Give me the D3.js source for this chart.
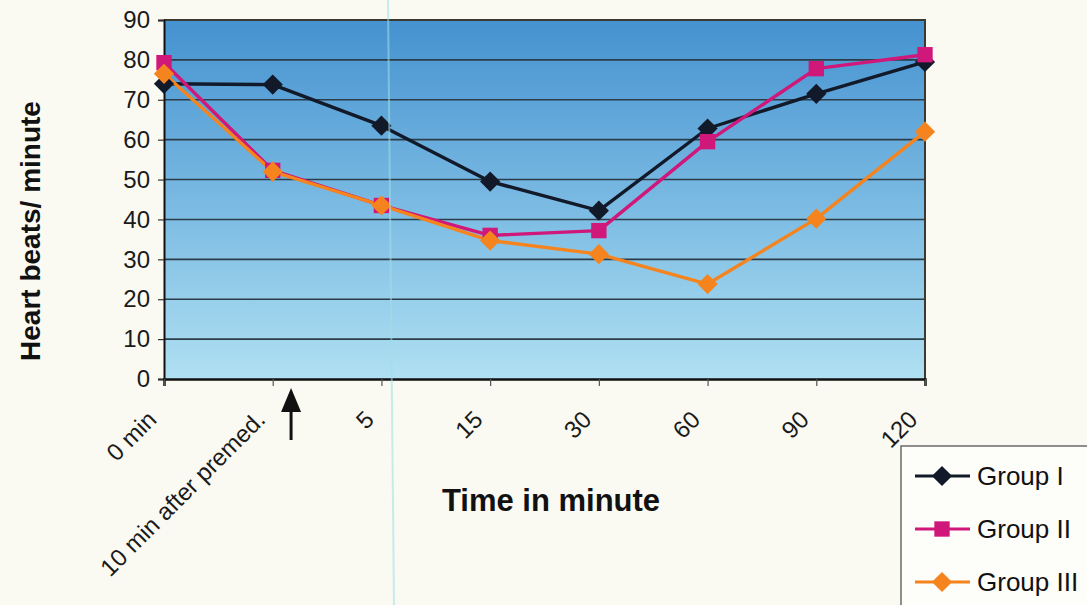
<!DOCTYPE html>
<html>
<head>
<meta charset="utf-8">
<script src="https://cdn.jsdelivr.net/npm/d3@7/dist/d3.min.js"></script>
<style>
  html, body { margin: 0; padding: 0; background: #fafaf3; }
  svg { display: block; }
  text { font-family: "Liberation Sans", Arial, sans-serif; }
</style>
</head>
<body>
<svg id="chart" width="1087" height="605"></svg>
<script>
// Time points after premedication
const categories = ["0 min", "10 min after premed.", "5", "15", "30", "60", "90", "120"];
// Heart beats per minute for each group
const groupI   = [74, 73.8, 63.5, 49.5, 42.2, 62.8, 71.5, 79.5];
const groupII  = [79.3, 52.3, 43.5, 36, 37.2, 59.5, 77.8, 81.3];
const groupIII = [76.5, 52, 43.5, 34.7, 31.3, 23.8, 40.2, 62];
const yTicks = [0, 10, 20, 30, 40, 50, 60, 70, 80, 90];
const seriesNames = ["Group I", "Group II", "Group III"];

const series = [
  { name: seriesNames[0], values: groupI,   color: "#121a2a", marker: "diamond" },
  { name: seriesNames[1], values: groupII,  color: "#d0177a", marker: "square" },
  { name: seriesNames[2], values: groupIII, color: "#f5841e", marker: "diamond" }
];

const svg = d3.select("#chart");
const plot = { left: 164, right: 925, top: 20, bottom: 379 };

const x = d3.scalePoint().domain(categories).range([plot.left, plot.right]).padding(0);
const y = d3.scaleLinear().domain([0, 90]).range([plot.bottom, plot.top]);

// Plot area gradient
const defs = svg.append("defs");
const grad = defs.append("linearGradient").attr("id", "bg")
  .attr("x1", 0).attr("y1", 0).attr("x2", 0).attr("y2", 1);
grad.append("stop").attr("offset", "0%").attr("stop-color", "#4592d0");
grad.append("stop").attr("offset", "55%").attr("stop-color", "#7ebde4");
grad.append("stop").attr("offset", "100%").attr("stop-color", "#b0e0f2");

svg.append("rect")
  .attr("x", plot.left).attr("y", plot.top)
  .attr("width", plot.right - plot.left).attr("height", plot.bottom - plot.top)
  .attr("fill", "url(#bg)");

// Horizontal gridlines
svg.append("g")
  .selectAll("line")
  .data(yTicks.filter(d => d > 0 && d < 90))
  .join("line")
  .attr("x1", plot.left).attr("x2", plot.right)
  .attr("y1", d => y(d)).attr("y2", d => y(d))
  .attr("stroke", "#2b3c48").attr("stroke-width", 1.6);

// Top and right border of the plot area
svg.append("path")
  .attr("d", `M${plot.left},${plot.top}H${plot.right}V${plot.bottom}`)
  .attr("fill", "none").attr("stroke", "#3a3a32").attr("stroke-width", 2);

// Y axis
const yAxis = d3.axisLeft(y).tickValues(yTicks).tickSize(6).tickPadding(8);
const gy = svg.append("g").attr("transform", `translate(${plot.left},0)`).call(yAxis);
gy.select(".domain").attr("stroke", "#111").attr("stroke-width", 2);
gy.selectAll(".tick line").attr("stroke", "#333").attr("stroke-width", 1.2);
gy.selectAll(".tick text")
  .attr("font-size", 24).attr("fill", "#1a1a1a")
  .style("font-family", "'Liberation Sans', Arial, sans-serif");

// X axis
const xAxis = d3.axisBottom(x).tickSize(7).tickFormat("");
const gx = svg.append("g").attr("transform", `translate(0,${plot.bottom})`).call(xAxis);
gx.select(".domain").attr("stroke", "#111").attr("stroke-width", 2.5);
gx.selectAll(".tick line").attr("stroke", "#555").attr("stroke-width", 1.2);

// Rotated category labels
svg.append("g")
  .selectAll("text")
  .data(categories)
  .join("text")
  .attr("transform", d => `translate(${x(d) - 18},${409}) rotate(-45)`)
  .attr("text-anchor", "end")
  .attr("dy", "0.71em")
  .attr("font-size", 24)
  .attr("fill", "#1a1a1a")
  .text(d => d);

// Arrow marking premedication
const arrowX = (x(categories[1]) + x(categories[2])) / 2 - 36;
svg.append("line")
  .attr("x1", arrowX).attr("x2", arrowX)
  .attr("y1", 408).attr("y2", 440)
  .attr("stroke", "#111").attr("stroke-width", 3);
svg.append("path")
  .attr("d", `M${arrowX},388 L${arrowX + 10},412 L${arrowX - 10},412 Z`)
  .attr("fill", "#111");

// Series lines and markers
const line = d3.line()
  .x((d, i) => x(categories[i]))
  .y(d => y(d));

const symDiamond = d3.symbol().type(d3.symbolDiamond2).size(260);
const symSquare = d3.symbol().type(d3.symbolSquare2).size(300);

series.forEach(s => {
  svg.append("path")
    .datum(s.values)
    .attr("d", line)
    .attr("fill", "none")
    .attr("stroke", s.color)
    .attr("stroke-width", 3.4)
    .attr("stroke-linejoin", "round");
});

series.forEach(s => {
  svg.append("g")
    .selectAll("path")
    .data(s.values)
    .join("path")
    .attr("transform", (d, i) => `translate(${x(categories[i])},${y(d)})`)
    .attr("d", s.marker === "square" ? symSquare : symDiamond)
    .attr("fill", s.color);
});

// Axis titles
svg.append("text")
  .attr("transform", `translate(40,${231}) rotate(-90)`)
  .attr("text-anchor", "middle")
  .attr("font-size", 28).attr("font-weight", "bold").attr("fill", "#111")
  .text("Heart beats/ minute");

svg.append("text")
  .attr("x", 551).attr("y", 511)
  .attr("text-anchor", "middle")
  .attr("font-size", 31).attr("font-weight", "bold").attr("fill", "#111")
  .text("Time in minute");

// Legend
const legend = svg.append("g").attr("transform", "translate(901,446)");
legend.append("rect")
  .attr("x", 0).attr("y", 0).attr("width", 200).attr("height", 180)
  .attr("fill", "#fdfdfa").attr("stroke", "#6a6a6a").attr("stroke-width", 1.5);

const rowY = d3.scalePoint().domain(seriesNames).range([30, 136]);
series.forEach(s => {
  const g = legend.append("g").attr("transform", `translate(0,${rowY(s.name)})`);
  g.append("line").attr("x1", 14).attr("x2", 69).attr("y1", 0).attr("y2", 0)
    .attr("stroke", s.color).attr("stroke-width", 3);
  g.append("path").attr("transform", "translate(41,0)")
    .attr("d", s.marker === "square" ? symSquare : symDiamond)
    .attr("fill", s.color);
  g.append("text").attr("x", 76).attr("y", 0).attr("dy", "0.36em")
    .attr("font-size", 26).attr("fill", "#111")
    .text(s.name);
});

// Faint scanner streak
svg.append("line")
  .attr("x1", 388).attr("y1", 0).attr("x2", 394).attr("y2", 605)
  .attr("stroke", "#9fdfe6").attr("stroke-width", 2).attr("opacity", 0.55);
</script>
</body>
</html>
